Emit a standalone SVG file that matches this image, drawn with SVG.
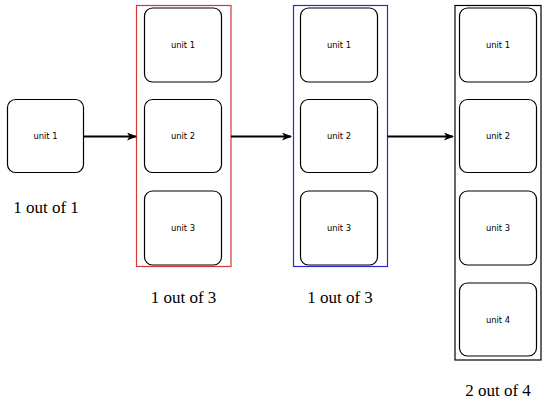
<svg xmlns="http://www.w3.org/2000/svg" width="550" height="402" viewBox="0 0 550 402">
<defs>
<marker id="arr" markerWidth="10" markerHeight="8" refX="9" refY="4" orient="auto" markerUnits="userSpaceOnUse">
<path d="M0,0 L10,4 L0,8 L2.5,4 Z" fill="#000"/>
</marker>
</defs>
<style>
.u{fill:#fff;stroke:#000;stroke-width:1.2}
.ut{font-family:"DejaVu Sans",sans-serif;font-size:8.4px;text-anchor:middle;dominant-baseline:central;fill:#000}
.lab{font-family:"Liberation Serif",serif;font-size:17px;text-anchor:middle;fill:#000}
.c{fill:none;stroke-width:1.2}
.e{stroke:#000;stroke-width:2;fill:none;marker-end:url(#arr)}
</style>
<rect width="550" height="402" fill="#fff"/>
<g id="single">
<rect class="u" x="7.5" y="99.5" width="76" height="73" rx="8"/>
<text class="ut" x="45.5" y="136">unit 1</text>
<text class="lab" x="46" y="213">1 out of 1</text>
</g>
<g id="red">
<rect class="c" x="136.5" y="5.5" width="94.5" height="261" stroke="#d03a30"/>
<rect class="u" x="144.5" y="8" width="77" height="74" rx="8"/>
<text class="ut" x="183" y="45">unit 1</text>
<rect class="u" x="144.5" y="99.5" width="77" height="73" rx="8"/>
<text class="ut" x="183" y="136">unit 2</text>
<rect class="u" x="144.5" y="191" width="77" height="74" rx="8"/>
<text class="ut" x="183" y="228">unit 3</text>
<text class="lab" x="183.5" y="303">1 out of 3</text>
</g>
<g id="blue">
<rect class="c" x="293.5" y="5.5" width="94" height="261" stroke="#2a2ad0"/>
<rect class="u" x="300.5" y="8" width="77" height="74" rx="8"/>
<text class="ut" x="339" y="45">unit 1</text>
<rect class="u" x="300.5" y="99.5" width="77" height="73" rx="8"/>
<text class="ut" x="339" y="136">unit 2</text>
<rect class="u" x="300.5" y="191" width="77" height="74" rx="8"/>
<text class="ut" x="339" y="228">unit 3</text>
<text class="lab" x="340" y="303">1 out of 3</text>
</g>
<g id="black">
<rect class="c" x="455" y="5.5" width="86" height="354.5" stroke="#000"/>
<rect class="u" x="459.5" y="8" width="77" height="74" rx="8"/>
<text class="ut" x="498" y="45">unit 1</text>
<rect class="u" x="459.5" y="99.5" width="77" height="73" rx="8"/>
<text class="ut" x="498" y="136">unit 2</text>
<rect class="u" x="459.5" y="191" width="77" height="74" rx="8"/>
<text class="ut" x="498" y="228">unit 3</text>
<rect class="u" x="459.5" y="283" width="77" height="73" rx="8"/>
<text class="ut" x="498" y="319.5">unit 4</text>
<text class="lab" x="498" y="396">2 out of 4</text>
</g>
<g id="connectors">
<line class="e" x1="83.5" y1="136.5" x2="136" y2="136.5"/>
<line class="e" x1="231" y1="136.5" x2="291" y2="136.5"/>
<line class="e" x1="387.5" y1="136.5" x2="453" y2="136.5"/>
</g>
</svg>
